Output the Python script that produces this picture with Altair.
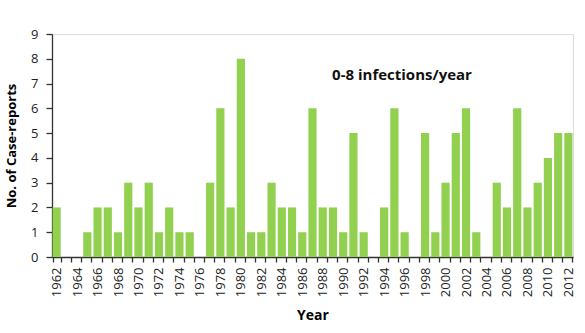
import altair as alt
import pandas as pd

years = list(range(1962, 2013))
cases = [2, 0, 0, 1, 2, 2, 1, 3, 2, 3, 1, 2, 1, 1, 0, 3, 6, 2, 8, 1,
         1, 3, 2, 2, 1, 6, 2, 2, 1, 5, 1, 0, 2, 6, 1, 0, 5, 1, 3, 5,
         6, 1, 0, 3, 2, 6, 2, 3, 4, 5, 5]
annotation = "0-8 infections/year"

df = pd.DataFrame({"Year": [str(y) for y in years], "Cases": cases})

font = "Open Sans"

bars = alt.Chart(df).mark_bar(color="#92D050").encode(
    x=alt.X("Year:N", sort=None,
            scale=alt.Scale(paddingInner=0.2, paddingOuter=0.05),
            axis=alt.Axis(title="Year", labelAngle=-90, tickBand="extent",
                          labelExpr="toNumber(datum.value) % 2 == 0 ? datum.label : ''",
                          labelFontSize=13, labelFont=font, labelColor="#222",
                          titleFont=font, titleFontSize=14, titleFontWeight="bold",
                          titlePadding=12, tickSize=5, domainColor="#333",
                          tickColor="#333", tickWidth=1.3, domainWidth=1.3,
                          labelPadding=5, labelBaseline="middle")),
    y=alt.Y("Cases:Q", scale=alt.Scale(domain=[0, 9], nice=False),
            axis=alt.Axis(title="No. of Case-reports", values=list(range(0, 10)),
                          grid=False, labelFontSize=13, labelFont=font, labelColor="#222",
                          titleFont=font, titleFontSize=13, titleFontWeight="bold",
                          titlePadding=12, tickSize=6, domainColor="#333",
                          tickColor="#333", tickWidth=1.3, domainWidth=1.3,
                          labelPadding=8)),
)

text = alt.Chart(pd.DataFrame({"t": [annotation]})).mark_text(
    font=font, fontSize=15, fontWeight="bold", color="#111"
).encode(text="t:N", x=alt.value(350), y=alt.value(41))

chart = alt.layer(bars, text).properties(
    width=521, height=223,
    autosize=alt.AutoSizeParams(type="none"),
    padding={"left": 52, "top": 34, "right": 12, "bottom": 76},
).configure_view(stroke=None).configure(background="white")

chart.save("out.html", embed_options={"renderer": "svg", "actions": False})
